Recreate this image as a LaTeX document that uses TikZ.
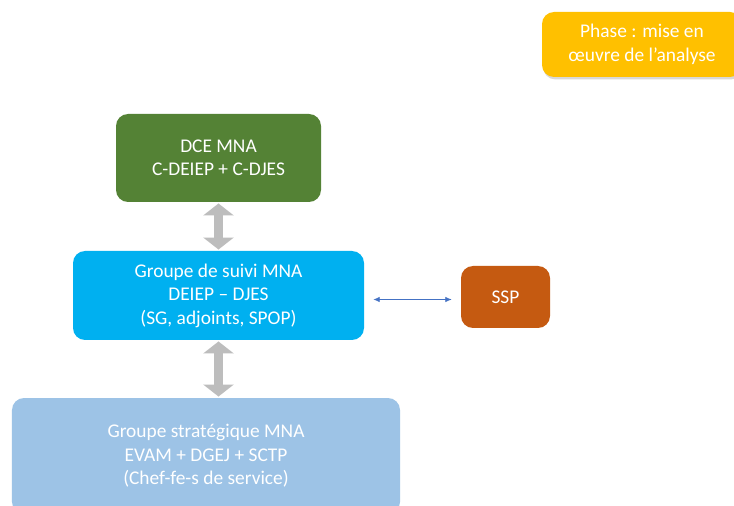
\documentclass[tikz,border=0pt]{standalone}
\usepackage{fontspec}
\setmainfont{Carlito}
\usetikzlibrary{arrows.meta, shadows}

\definecolor{phasegold}{HTML}{FFC000}
\definecolor{dcegreen}{HTML}{548235}
\definecolor{suiviblue}{HTML}{00B0F0}
\definecolor{sspbrown}{HTML}{C55A11}
\definecolor{stratblue}{HTML}{9DC3E6}
\definecolor{arrowgray}{HTML}{BDBDBD}
\definecolor{linkblue}{HTML}{4472C4}

\tikzset{
  box/.style={rounded corners=0.3cm, text=white, align=center, inner sep=0pt,
    font=\fontsize{13.8}{16.7}\selectfont},
  bigarrow/.style={arrowgray, line width=0.225cm,
    {Triangle[width=0.75cm,length=0.3cm]}-{Triangle[width=0.75cm,length=0.3cm]},
    shorten <=0.03cm, shorten >=0.03cm},
  link/.style={linkblue, semithick, {Latex[length=1.6mm,width=1.4mm]}-{Latex[length=1.6mm,width=1.4mm]},
    shorten <=0.225cm, shorten >=0.225cm}
}

\begin{document}
\begin{tikzpicture}
\clip (0,0) rectangle (18.35,-12.65);
\fill[white] (0,0) rectangle (18.35,-12.65);

% phase label
\node[box, fill=phasegold, minimum width=5cm, minimum height=1.625cm,
  drop shadow={opacity=0.3, shadow xshift=0.03cm, shadow yshift=-0.06cm}]
  (phase) at (16.05,-1.1125) {Phase : mise en\\œuvre de l’analyse};

% groups
\node[box, fill=dcegreen, minimum width=5.125cm, minimum height=2.2cm]
  (dce) at (5.4625,-3.95) {DCE MNA\\C-DEIEP + C-DJES};
\node[box, fill=suiviblue, minimum width=7.275cm, minimum height=2.225cm]
  (suivi) at (5.4625,-7.3875) {Groupe de suivi MNA\\DEIEP – DJES\\(SG, adjoints, SPOP)};
\node[box, fill=sspbrown, minimum width=2.225cm, minimum height=1.55cm]
  (ssp) at (12.6375,-7.425) {SSP};
\node[box, fill=stratblue, minimum width=9.7cm, minimum height=2.9cm]
  (strat) at (5.15,-11.4) {Groupe stratégique MNA\\EVAM + DGEJ + SCTP\\(Chef-fe-s de service)};

% connectors
\draw[bigarrow] (dce.south) -- (suivi.north);
\draw[bigarrow] (suivi.south) -- (suivi.south |- strat.north);
\draw[link] ([yshift=-0.1cm]suivi.east) -- ([yshift=-0.1cm]suivi.east -| ssp.west);
\end{tikzpicture}
\end{document}
